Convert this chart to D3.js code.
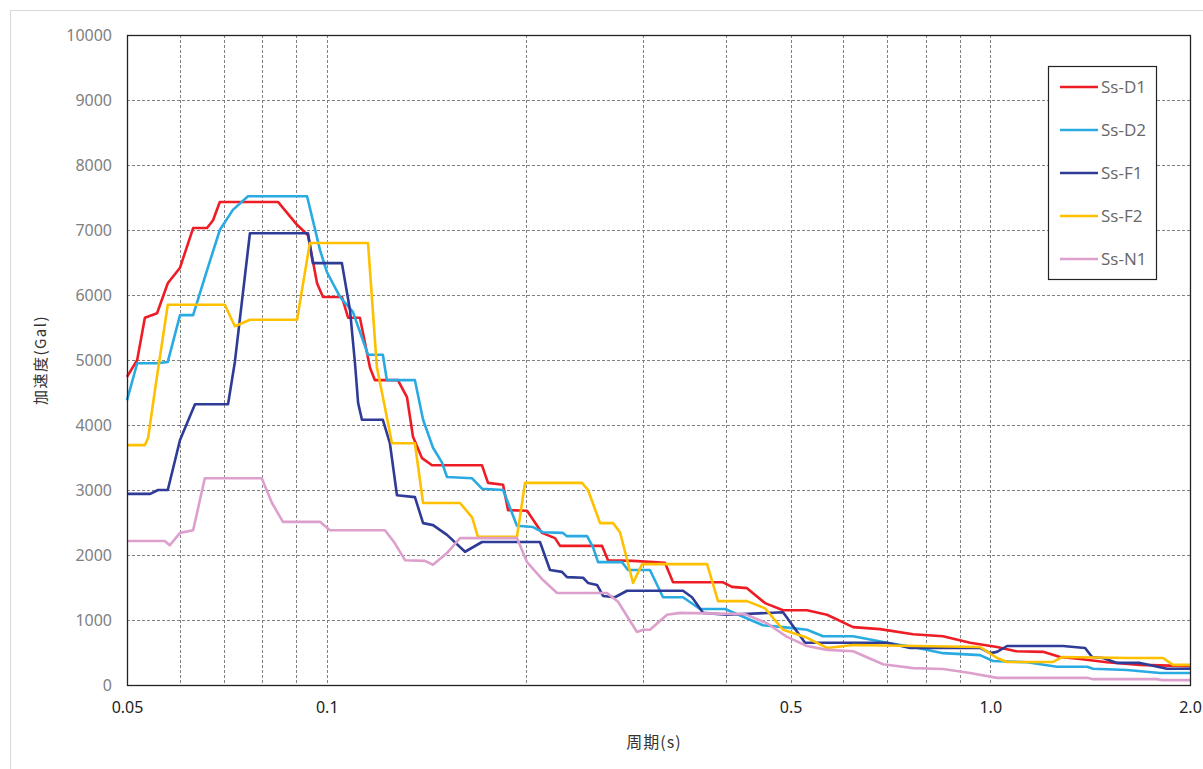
<!DOCTYPE html>
<html>
<head>
<meta charset="utf-8">
<script src="https://cdn.jsdelivr.net/npm/d3@7"></script>
<style>
  body { margin: 0; background: #fff; }
  svg text { font-family: "Noto Sans CJK JP", "Noto Sans", sans-serif; }
</style>
</head>
<body>
<script>
// series data: [period (s), acceleration (Gal)]
var ssD1 = [[0.05,4740],[0.0518,5000],[0.0532,5650],[0.0555,5720],[0.0576,6180],[0.0601,6420],[0.0629,7030],[0.0660,7030],[0.0674,7150],[0.0690,7430],[0.0845,7430],[0.0902,7080],[0.0937,6920],[0.0967,6180],[0.0987,5970],[0.1054,5970],[0.1077,5650],[0.1122,5650],[0.1162,4880],[0.1182,4690],[0.1280,4690],[0.1321,4430],[0.1349,3820],[0.1392,3490],[0.1441,3380],[0.1714,3380],[0.1750,3110],[0.1844,3080],[0.1876,2690],[0.2004,2680],[0.2111,2340],[0.2208,2260],[0.2247,2140],[0.2600,2140],[0.2654,1920],[0.2895,1910],[0.3234,1880],[0.3326,1580],[0.3956,1580],[0.4081,1510],[0.4299,1490],[0.4577,1260],[0.4872,1150],[0.5295,1150],[0.5675,1080],[0.6213,890],[0.6822,860],[0.7650,780],[0.8489,750],[0.9323,650],[1.0238,585],[1.0938,520],[1.2013,510],[1.2741,430],[1.3657,400],[1.4997,350],[1.6817,310],[2.0,290]];
var ssD2 = [[0.05,4380],[0.0518,4950],[0.0555,4950],[0.0576,4970],[0.0601,5690],[0.0629,5690],[0.0660,6380],[0.0690,7000],[0.0722,7310],[0.0761,7520],[0.0934,7520],[0.0977,6690],[0.1001,6350],[0.1047,5970],[0.1095,5740],[0.1154,5080],[0.1215,5080],[0.1232,4690],[0.1358,4690],[0.1397,4080],[0.1446,3650],[0.1492,3420],[0.1518,3200],[0.1656,3180],[0.1714,3020],[0.1844,3000],[0.1935,2450],[0.2046,2430],[0.2118,2350],[0.2270,2340],[0.2302,2290],[0.2468,2290],[0.2519,2120],[0.2564,1890],[0.2786,1890],[0.2845,1770],[0.3070,1770],[0.3212,1350],[0.3443,1350],[0.3652,1170],[0.3984,1170],[0.4544,920],[0.4872,890],[0.5295,850],[0.5597,750],[0.6213,750],[0.6989,650],[0.7650,585],[0.8489,490],[0.9652,460],[1.0098,370],[1.1361,350],[1.2609,280],[1.3994,280],[1.4287,250],[1.6073,230],[1.8027,185],[2.0,185]];
var ssF1 = [[0.05,2940],[0.0542,2940],[0.0557,3000],[0.0576,3000],[0.0601,3770],[0.0633,4320],[0.0710,4320],[0.0727,4970],[0.0766,6950],[0.0937,6950],[0.0953,6490],[0.1054,6490],[0.1084,5770],[0.1103,4950],[0.1115,4340],[0.1130,4080],[0.1215,4080],[0.1245,3720],[0.1276,2920],[0.1358,2890],[0.1397,2490],[0.1446,2460],[0.1518,2310],[0.1616,2050],[0.1714,2200],[0.2096,2200],[0.2170,1770],[0.2262,1740],[0.2302,1660],[0.2434,1650],[0.2476,1570],[0.2555,1540],[0.2609,1370],[0.2719,1350],[0.2835,1450],[0.3443,1450],[0.3552,1350],[0.3690,1110],[0.4011,1080],[0.4872,1120],[0.5259,650],[0.6989,650],[0.7571,570],[0.9652,570],[0.9993,490],[1.0238,510],[1.0601,600],[1.2873,600],[1.3897,570],[1.4240,430],[1.4791,415],[1.5524,340],[1.6817,340],[1.8467,250],[2.0,250]];
var ssF2 = [[0.05,3690],[0.0532,3690],[0.0538,3800],[0.0551,4540],[0.0576,5850],[0.0702,5850],[0.0727,5520],[0.0766,5620],[0.0902,5620],[0.0943,6800],[0.1154,6800],[0.1190,4890],[0.1215,4430],[0.1254,3720],[0.1358,3720],[0.1397,2800],[0.1588,2800],[0.1656,2580],[0.1690,2280],[0.1935,2280],[0.1990,3110],[0.2425,3110],[0.2476,3000],[0.2582,2490],[0.2701,2490],[0.2767,2350],[0.2895,1570],[0.2987,1860],[0.3743,1860],[0.3888,1290],[0.4299,1290],[0.4577,1180],[0.4872,850],[0.5259,740],[0.5675,570],[0.6213,615],[0.9652,585],[1.0238,415],[1.0601,355],[1.2436,355],[1.2829,430],[1.6242,415],[1.8214,415],[1.8853,310],[2.0,310]];
var ssN1 = [[0.05,2215],[0.0570,2215],[0.0580,2150],[0.0601,2340],[0.0629,2380],[0.0655,3180],[0.0798,3180],[0.0827,2800],[0.0859,2510],[0.0977,2510],[0.1011,2380],[0.1224,2380],[0.1267,2180],[0.1312,1920],[0.1406,1910],[0.1446,1850],[0.1518,2030],[0.1588,2260],[0.1935,2260],[0.2004,1890],[0.2118,1615],[0.2224,1415],[0.2645,1415],[0.2748,1280],[0.2935,815],[0.2997,850],[0.3070,850],[0.3257,1080],[0.3408,1110],[0.4269,1090],[0.4608,950],[0.4939,740],[0.5295,600],[0.5675,540],[0.6213,520],[0.6893,320],[0.7650,260],[0.8489,245],[0.9323,185],[1.0238,110],[1.3994,110],[1.4287,90],[1.7839,90],[1.8151,75],[2.0,75]];

var seriesNames = ["Ss-D1", "Ss-D2", "Ss-F1", "Ss-F2", "Ss-N1"];
var seriesData = [ssD1, ssD2, ssF1, ssF2, ssN1];
var seriesColors = ["#ee1c25", "#29abe2", "#2e3b97", "#ffc000", "#dda0cd"];

var xTickLabels = [0.05, 0.1, 0.5, 1.0, 2.0];
var xGridValues = [0.06, 0.07, 0.08, 0.09, 0.1, 0.2, 0.3, 0.4, 0.5, 0.6, 0.7, 0.8, 0.9, 1.0];
var yTicks = d3.range(0, 10001, 1000);

var margin = {top: 35, right: 13, bottom: 84, left: 127},
  width = 1203 - margin.left - margin.right,
  height = 769 - margin.top - margin.bottom;

var svg = d3.select("body").append("svg")
  .attr("width", 1203)
  .attr("height", 769);

// outer chart frame
svg.append("rect")
  .attr("x", 10.5).attr("y", 10.5)
  .attr("width", 1220).attr("height", 800)
  .attr("fill", "none")
  .attr("stroke", "#d9d9d9");

var g = svg.append("g").attr("transform", `translate(${margin.left},${margin.top})`);

var x = d3.scaleLog().domain([0.05, 2.0]).range([0, width]);
var y = d3.scaleLinear().domain([0, 10000]).range([height, 0]);

// grid
g.append("g")
  .selectAll("line")
  .data(yTicks.slice(1, -1))
  .enter().append("line")
  .attr("x1", 0).attr("x2", width)
  .attr("y1", d => Math.round(y(d)) + 0.5).attr("y2", d => Math.round(y(d)) + 0.5)
  .attr("stroke", "#808080").attr("stroke-dasharray", "3,2");

g.append("g")
  .selectAll("line")
  .data(xGridValues)
  .enter().append("line")
  .attr("x1", d => Math.round(x(d)) + 0.5).attr("x2", d => Math.round(x(d)) + 0.5)
  .attr("y1", 0).attr("y2", height)
  .attr("stroke", "#808080").attr("stroke-dasharray", "3,2");

// series lines
var line = d3.line().x(d => x(d[0])).y(d => y(d[1]));
seriesData.forEach(function (data, i) {
  g.append("path")
    .datum(data)
    .attr("d", line)
    .attr("fill", "none")
    .attr("stroke", seriesColors[i])
    .attr("stroke-width", 2.6)
    .attr("stroke-linejoin", "round");
});

// plot border
g.append("rect")
  .attr("x", 0.5).attr("y", 0.5)
  .attr("width", width).attr("height", height)
  .attr("fill", "none").attr("stroke", "#222").attr("stroke-width", 1.3);

// y axis
var yAxis = d3.axisLeft(y).tickValues(yTicks).tickSize(0).tickPadding(15).tickFormat(d3.format("d"));
g.append("g").call(yAxis)
  .call(s => s.select(".domain").remove())
  .selectAll("text")
  .attr("fill", "#7f7f7f")
  .style("font-size", "16px")
  .style("font-family", "'Noto Sans', sans-serif");

// x axis
var xAxis = d3.axisBottom(x).tickValues(xTickLabels).tickSize(0).tickPadding(17)
  .tickFormat(d => d >= 1 ? d.toFixed(1) : String(d));
g.append("g")
  .attr("transform", `translate(0,${height})`)
  .call(xAxis)
  .call(s => s.select(".domain").remove())
  .selectAll("text")
  .attr("fill", "#222")
  .style("font-size", "16px")
  .style("font-family", "'Noto Sans', sans-serif");

// axis titles
svg.append("text")
  .attr("x", 654).attr("y", 748)
  .attr("text-anchor", "middle")
  .attr("fill", "#333")
  .style("font-size", "16px")
  .style("letter-spacing", "1px")
  .text("周期(s)");

svg.append("text")
  .attr("transform", "translate(46,360) rotate(-90)")
  .attr("text-anchor", "middle")
  .attr("fill", "#333")
  .style("font-size", "15px")
  .style("letter-spacing", "1.5px")
  .text("加速度(Gal)");

// legend
var legend = svg.append("g").attr("transform", "translate(1048,66)");
legend.append("rect")
  .attr("x", 0.5).attr("y", 0.5)
  .attr("width", 108).attr("height", 213)
  .attr("fill", "#fff").attr("stroke", "#222").attr("stroke-width", 1.2);

seriesNames.forEach(function (name, i) {
  var ly = 21 + i * 43;
  legend.append("line")
    .attr("x1", 12).attr("x2", 50)
    .attr("y1", ly).attr("y2", ly)
    .attr("stroke", seriesColors[i]).attr("stroke-width", 2.6);
  legend.append("text")
    .attr("x", 53).attr("y", ly + 6)
    .attr("fill", "#666")
    .style("font-size", "17px")
    .style("font-family", "'Open Sans', sans-serif")
    .text(name);
});
</script>
</body>
</html>
